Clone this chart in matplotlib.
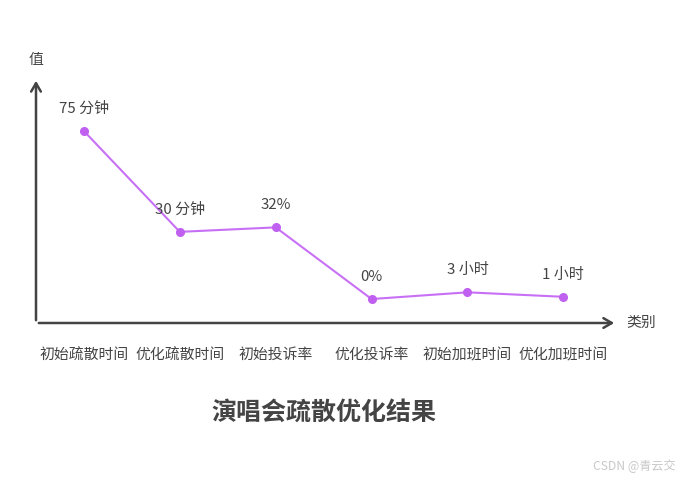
import matplotlib.pyplot as plt

plt.rcParams['font.family'] = ['Noto Sans CJK SC', 'DejaVu Sans']

categories = ["初始疏散时间", "优化疏散时间", "初始投诉率", "优化投诉率", "初始加班时间", "优化加班时间"]
values = [75, 30, 32, 0, 3, 1]
value_labels = ["75 分钟", "30 分钟", "32%", "0%", "3 小时", "1 小时"]

W, H = 684, 480
fig = plt.figure(figsize=(W / 100, H / 100), dpi=100)
# axes box: origin at (36, 323) px, x arrow to 617, y arrow to 78
x0, x1, y0, y1 = 36, 617, 323, 78
ax = fig.add_axes([x0 / W, 1 - y0 / H, (x1 - x0) / W, (y0 - y1) / H])
ax.set_xlim(-0.5, 5.56)
ax.set_ylim(-10.7, 98.7)

for s in ax.spines.values():
    s.set_visible(False)

axis_col = '#444444'
ax.annotate('', xy=(1, 0), xytext=(0, 0), xycoords='axes fraction',
            arrowprops=dict(arrowstyle='->,head_length=0.6,head_width=0.35', color=axis_col, lw=1.8))
ax.annotate('', xy=(0, 1), xytext=(0, 0), xycoords='axes fraction',
            arrowprops=dict(arrowstyle='->,head_length=0.6,head_width=0.35', color=axis_col, lw=1.8))

x = list(range(len(categories)))
ax.plot(x, values, color='#c870f5', lw=1.5, marker='o', markersize=5.5,
        markerfacecolor='#c060f0', markeredgecolor='#c060f0', clip_on=False)

for xi, v, lab in zip(x, values, value_labels):
    ax.annotate(lab, (xi, v), xytext=(0, 16), textcoords='offset points',
                ha='center', va='center', fontsize=10.8, color='#444444')

ax.set_yticks([])
ax.set_xticks(x)
ax.set_xticklabels(categories, fontsize=10.7, color='#444444')
ax.tick_params(axis='x', length=0, pad=18)

fig.text(36 / W, 1 - 60 / H, '值', ha='center', va='center', fontsize=10.7, color='#444444')
fig.text(641 / W, 1 - 323 / H, '类别', ha='center', va='center', fontsize=10.7, color='#444444')
fig.text(324 / W, 1 - 413 / H, '演唱会疏散优化结果', ha='center', va='center',
         fontsize=18, fontweight='bold', color='#444444')
fig.text(634 / W, 1 - 466 / H, 'CSDN @青云交', ha='center', va='center',
         fontsize=8.7, color='#c8c8c8')

fig.savefig('out.png', dpi=100)
